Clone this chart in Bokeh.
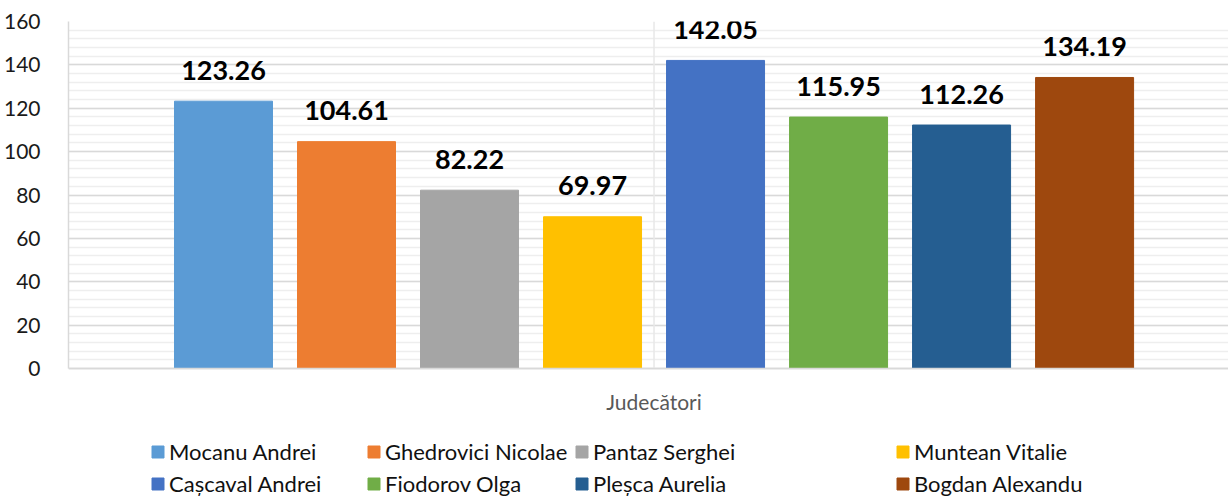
from bokeh.plotting import figure
from bokeh.models import (ColumnDataSource, Range1d, FixedTicker, Legend, LegendItem, Span, Label)
from bokeh.core.properties import value
from bokeh.embed import file_html
from bokeh.resources import INLINE

names = ["Mocanu Andrei", "Ghedrovici Nicolae", "Pantaz Serghei", "Muntean Vitalie",
         "Cașcaval Andrei", "Fiodorov Olga", "Pleșca Aurelia", "Bogdan Alexandu"]
values = [123.26, 104.61, 82.22, 69.97, 142.05, 115.95, 112.26, 134.19]
colors = ["#5B9BD5", "#ED7D31", "#A5A5A5", "#FFC000", "#4472C4", "#70AD47", "#255E91", "#9E480E"]
y_ticks = [0, 20, 40, 60, 80, 100, 120, 140, 160]
category_label = "Judecători"

FONT = "Lato"
Y_MAX = 160
PLOT_H_PX = 347          # pixel height of the 0..160 value band
BELOW_PX = 128           # room under the zero line for axis title + legend
y_min = -BELOW_PX * Y_MAX / PLOT_H_PX

source = ColumnDataSource(dict(
    x=list(range(len(values))),
    top=values,
    name=names,
    color=colors,
    label=[f"{v:.2f}" for v in values],
))

p = figure(width=1228, height=496, output_backend="svg", toolbar_location=None,
           x_range=Range1d(-1.26, 8.17), y_range=Range1d(y_min, Y_MAX),
           x_axis_location=None,
           min_border_left=68, min_border_top=21, min_border_right=0, min_border_bottom=0)
p.outline_line_color = None
p.background_fill_color = "white"

# grids (limited to the value band)
p.ygrid.ticker = FixedTicker(ticks=y_ticks, minor_ticks=list(range(0, Y_MAX + 1, 4)))
p.ygrid.bounds = (0, Y_MAX)
p.ygrid.grid_line_color = "#d9d9d9"
p.ygrid.grid_line_width = 1.5
p.ygrid.minor_grid_line_color = "#eeeeee"
p.ygrid.minor_grid_line_width = 1.5
p.xgrid.visible = False
p.segment(x0=[3.5], y0=[0], x1=[3.5], y1=[Y_MAX], line_color="#e8e8e8", line_width=1.5)

r = p.vbar(x="x", top="top", width=98 / 123, color="color", source=source)
p.text(x="x", y="top", text="label", source=source, text_font=value(FONT),
       text_font_style="bold", text_font_size="27px", text_align="center",
       text_baseline="alphabetic", y_offset=-31, text_color="black")

# category axis line + title
p.add_layout(Span(location=0, dimension="width", line_color="#d9d9d9", line_width=1.5))
p.add_layout(Label(x=3.5, y=0, text=category_label, y_offset=-33, text_align="center",
                   text_baseline="middle", text_font=FONT, text_font_size="21px",
                   text_color="#595959"))

# y axis
p.yaxis.ticker = FixedTicker(ticks=y_ticks)
p.yaxis.bounds = (0, Y_MAX)
p.yaxis.major_label_text_font = FONT
p.yaxis.major_label_text_font_size = "21px"
p.yaxis.major_label_text_color = "#1a1a1a"
p.yaxis.major_tick_line_color = None
p.yaxis.minor_tick_line_color = None
p.yaxis.axis_line_color = "#d9d9d9"
p.yaxis.axis_line_width = 1.5
p.yaxis.major_label_standoff = 22

# legend: 4 columns, 2 rows
col_x = [82, 298, 506, 827]
for c in range(4):
    items = [LegendItem(label=names[c + 4 * rr], renderers=[r], index=c + 4 * rr) for rr in range(2)]
    leg = Legend(items=items, location=(col_x[c], -1), orientation="vertical",
                 padding=0, margin=0, spacing=5, glyph_width=15, glyph_height=15,
                 label_height=24, label_standoff=4,
                 label_text_font=FONT, label_text_font_size="22px",
                 label_text_color="#111111",
                 border_line_color=None, background_fill_alpha=0)
    p.add_layout(leg, "center")

open("out.html", "w").write(file_html(p, INLINE))
